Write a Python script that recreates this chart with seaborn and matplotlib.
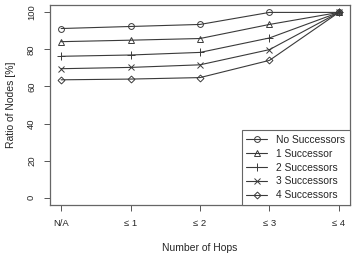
import numpy as np
import pandas as pd
import seaborn as sns
import matplotlib
matplotlib.use("Agg")
import matplotlib.pyplot as plt

hops = ["N/A", "\u2264 1", "\u2264 2", "\u2264 3", "\u2264 4"]
no_succ = [91.3, 92.4, 93.5, 100, 100]
succ_1 = [84.2, 85.0, 85.9, 93.5, 100]
succ_2 = [76.3, 77.0, 78.4, 86.2, 100]
succ_3 = [69.6, 70.3, 71.7, 79.9, 100]
succ_4 = [63.6, 64.0, 64.8, 74.1, 100]

series = {
    "No Successors": no_succ,
    "1 Successor": succ_1,
    "2 Successors": succ_2,
    "3 Successors": succ_3,
    "4 Successors": succ_4,
}
markers = ["o", "^", "+", "x", "D"]
sizes = [4.2, 4.2, 6, 4.2, 3.5]

sns.set_style("ticks")
plt.rcParams['font.family'] = ['Liberation Sans', 'DejaVu Sans']

fig = plt.figure(figsize=(3.52, 2.54), dpi=100)
ax = fig.add_axes([50/352, 1 - 205/254, 300/352, 200/254])

pos = np.arange(len(hops))
for (name, vals), m, s in zip(series.items(), markers, sizes):
    sns.lineplot(x=pos, y=vals, ax=ax, color="#3a3a3a", linewidth=0.8,
                 marker=m, markersize=s, markerfacecolor="none",
                 markeredgecolor="#3a3a3a", markeredgewidth=0.7, label=name)

ax.set_xlim(-0.16, 4.16)
ax.set_ylim(-4, 104)
ax.set_xticks(pos)
ax.set_xticklabels(hops, fontsize=6.8)
ax.set_yticks([0, 20, 40, 60, 80, 100])
ax.set_yticklabels(["0", "20", "40", "60", "80", "100"], fontsize=6.8,
                   rotation=90, va="center")
ax.tick_params(length=4, width=0.7, color="#555555", pad=6)
for sp in ax.spines.values():
    sp.set_color("#666666")
    sp.set_linewidth(0.9)

ax.set_xlabel("Number of Hops", fontsize=7.5, labelpad=11)
ax.set_ylabel("Ratio of Nodes [%]", fontsize=7.5, labelpad=8)

leg = ax.legend(loc="lower right", fontsize=7.4, frameon=True, fancybox=False,
                framealpha=1, edgecolor="#666666", borderaxespad=0,
                handlelength=2.0, handletextpad=0.9, labelspacing=0.38,
                borderpad=0.45)
leg.get_frame().set_linewidth(0.8)

fig.savefig("out.png", dpi=100)
